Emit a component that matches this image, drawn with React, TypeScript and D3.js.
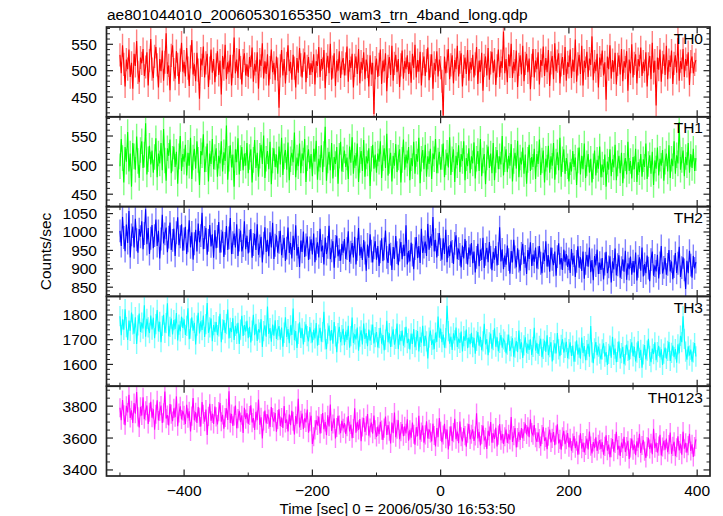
import React from "react";
import * as d3 from "d3";

const titleText = "ae801044010_20060530165350_wam3_trn_4band_long.qdp";
const xLabelText = "Time [sec] 0 = 2006/05/30 16:53:50";
const yLabelText = "Counts/sec";
const panelNames = ["TH0", "TH1", "TH2", "TH3", "TH0123"];
const panelColors = ["#ff0000", "#00ff00", "#0000ff", "#00ffff", "#ff00ff"];
const panelErrors = [22, 22, 31, 41, 60];
const panelDomains: [number, number][] = [[412.6, 582.8], [428.7, 583], [825, 1069], [1512, 1875], [3362, 3925]];
const panelMajorTicks = [[450, 500, 550], [450, 500, 550], [850, 900, 950, 1000, 1050], [1600, 1700, 1800], [3400, 3600, 3800]];
const panelMinorSteps = [10, 10, 10, 20, 50];
const xMajorTicks = [-400, -200, 0, 200, 400];
const xMinorTicks = [-500, -300, -100, 100, 300];
const timeStart = -500;
const timeStep = 2;

const th0 = [
530,495,548,512,470,521,503,540,488,515,466,532,509,556,497,478,525,514,541,490,507,535,472,519,560,
503,486,527,545,511,468,522,499,538,481,516,571,494,510,463,529,548,502,485,537,512,475,520,553,498,
517,489,543,505,471,526,558,493,512,480,534,501,447,523,510,546,487,515,532,469,505,540,496,522,478,
511,537,492,519,455,528,503,549,484,516,497,530,472,508,563,495,521,486,541,506,474,519,533,491,512,
488,526,507,544,479,513,498,535,466,521,509,552,485,518,494,531,472,506,540,497,515,482,527,503,430,
509,539,491,522,476,514,548,499,517,483,530,505,468,524,496,543,511,487,520,535,478,508,526,492,514,
497,531,474,518,509,545,488,522,503,539,467,512,528,495,551,483,507,533,471,519,500,537,486,515,524,
491,513,546,479,520,505,532,468,510,527,494,541,476,517,502,535,484,521,508,470,529,493,515,418,506,
523,488,512,540,475,519,499,533,461,508,526,492,547,481,514,530,497,522,469,511,538,485,518,503,529,
494,516,477,532,505,549,487,520,498,536,472,513,527,490,519,544,482,509,531,466,515,500,537,489,521,
506,480,415,527,495,518,541,484,511,529,476,520,503,547,489,516,533,470,508,525,494,539,481,517,502,
530,487,513,545,475,519,498,534,462,510,527,491,543,483,515,536,496,521,473,509,540,488,518,505,574,
495,522,478,531,508,551,486,517,500,538,469,512,529,493,547,480,514,532,497,523,465,510,541,487,519,
503,535,474,520,509,546,490,524,497,539,471,515,528,484,552,499,518,533,476,511,526,492,545,481,516,
507,540,486,521,498,559,479,513,530,494,547,472,519,505,536,488,523,511,565,482,517,499,532,468,525,
510,538,491,516,445,527,503,548,485,520,497,534,474,512,529,493,541,480,518,506,537,462,521,495,550,
487,514,531,476,522,508,544,490,517,499,535,470,513,528,484,553,496,519,434,525,502,540,479,516,531,
492,547,484,520,507,538,475,514,529,496,562,481,518,503,541,488,522,509,535,473,517,527,495,512,520,
];

const th1 = [
498,545,512,470,531,506,557,489,520,463,538,515,492,549,507,478,526,541,495,518,572,484,510,533,501,
525,487,514,546,479,520,503,538,491,562,508,473,529,516,544,486,511,532,497,523,468,515,550,490,519,
506,535,482,521,499,547,476,513,528,494,541,509,466,524,517,553,488,510,537,472,520,502,545,493,514,
529,480,516,503,541,489,522,507,568,475,511,534,496,518,463,527,505,546,484,512,531,491,520,499,538,
486,514,527,470,509,543,495,521,480,516,535,502,551,478,511,524,493,540,467,508,529,497,518,485,532,
501,547,483,515,526,492,539,474,510,521,505,556,479,513,498,537,486,520,508,545,471,512,527,494,519,
481,528,506,542,475,511,496,534,488,519,566,473,508,523,491,538,477,514,502,531,468,516,540,489,510,
525,497,513,476,532,504,548,485,517,499,537,471,509,524,490,543,480,515,503,529,464,511,535,494,518,
487,520,506,541,478,512,529,495,554,482,507,521,472,516,499,536,488,513,527,470,509,544,492,518,503,
531,474,512,498,540,485,519,506,547,469,511,526,493,535,480,515,502,528,476,520,510,545,486,508,523,
492,514,537,479,505,521,496,548,483,510,527,471,516,500,534,488,519,507,541,474,512,498,529,486,515,
503,539,477,511,524,490,545,481,508,519,467,513,532,495,520,486,538,474,509,526,493,515,501,550,482,
510,527,488,516,499,536,472,507,521,494,542,479,513,501,530,485,518,468,509,535,490,514,497,528,476,
519,502,544,483,508,525,470,511,496,533,487,515,499,538,475,506,522,491,547,480,510,527,485,512,498,
472,505,489,524,497,513,466,508,530,484,516,493,537,478,503,519,487,511,470,498,525,482,509,494,532,
479,501,488,518,463,506,492,527,481,510,496,535,474,503,516,486,521,469,499,512,484,540,490,507,477,
514,493,528,471,505,488,519,480,510,497,537,476,502,517,485,523,466,508,494,530,482,511,499,526,473,
506,520,489,534,478,511,498,541,485,517,503,574,492,509,525,481,514,500,538,487,519,495,528,490,512,
];

const th2 = [
1003,962,1041,985,948,1020,970,1057,931,992,1015,958,1036,979,944,1008,987,1029,953,996,1062,967,1011,940,983,
1019,956,990,1034,962,1003,928,981,1047,969,995,1012,945,986,1026,951,977,1009,935,998,1040,964,987,1021,949,
981,1014,940,976,1032,958,999,925,968,1006,947,1023,972,990,1052,953,985,1011,938,977,1019,961,994,930,1005,
956,988,1027,944,975,1001,932,969,1016,951,984,1038,940,971,996,958,1021,935,978,1004,947,963,1029,953,990,
942,975,1008,930,966,995,951,1021,938,962,987,917,970,1013,946,979,934,999,958,1025,927,964,991,944,972,
1003,937,961,984,921,956,1012,943,970,928,990,951,1018,936,959,905,977,946,1001,932,965,988,924,957,980,
939,996,918,954,972,931,1009,947,963,912,985,940,958,1017,926,949,975,903,961,990,934,952,922,968,944,
981,927,955,1002,919,945,970,931,987,912,953,1011,936,960,924,978,943,895,966,930,994,948,917,957,975,
925,962,908,946,983,921,954,1004,931,916,968,940,897,959,927,989,944,910,951,973,926,965,935,1018,912,
948,920,971,937,899,955,986,929,962,916,1009,943,959,974,935,1022,952,988,963,1041,947,979,931,966,997,
952,925,983,940,1006,918,961,934,975,947,913,969,991,926,955,939,904,963,928,981,945,912,958,936,970,
915,947,890,931,968,907,952,924,984,902,939,957,918,973,931,896,946,925,962,909,941,1013,920,953,899,
936,911,963,925,887,948,917,979,932,904,956,921,895,942,968,913,934,886,951,927,972,908,939,919,958,
901,930,962,915,888,944,921,975,906,937,892,958,926,910,947,881,933,969,912,929,897,952,918,940,905,
927,889,954,912,936,878,920,961,903,931,894,947,873,915,938,906,958,891,924,869,935,909,952,886,917,
897,929,871,913,946,888,905,934,863,920,898,955,882,911,937,876,903,926,892,949,870,915,899,933,884,
921,890,944,868,907,931,895,958,879,913,888,936,902,866,925,947,881,909,893,938,874,916,962,887,904,
929,884,912,951,893,920,872,906,943,889,915,960,878,903,931,897,845,922,888,949,910,876,935,901,918,
];

const th3 = [
1795,1718,1782,1740,1823,1751,1699,1777,1736,1810,1762,1724,1791,1683,1758,1806,1731,1769,1745,1839,1712,1784,1750,1727,1798,
1741,1789,1706,1763,1820,1733,1772,1690,1756,1801,1728,1767,1847,1714,1752,1785,1721,1779,1743,1808,1697,1761,1734,1793,1748,
1782,1719,1756,1827,1702,1745,1790,1736,1768,1681,1757,1809,1725,1774,1739,1798,1711,1763,1848,1728,1750,1786,1694,1759,1732,
1771,1718,1754,1805,1690,1742,1779,1727,1763,1822,1705,1748,1731,1787,1699,1756,1724,1768,1683,1741,1797,1715,1759,1733,1776,
1706,1752,1689,1737,1801,1718,1764,1695,1742,1729,1783,1671,1735,1758,1712,1834,1723,1747,1692,1761,1716,1778,1703,1739,1755,
1700,1749,1672,1728,1791,1711,1743,1686,1758,1719,1826,1698,1735,1667,1724,1770,1707,1746,1681,1732,1762,1714,1693,1751,1727,
1689,1740,1705,1767,1676,1720,1748,1692,1731,1813,1701,1662,1725,1757,1696,1739,1684,1771,1713,1649,1726,1752,1690,1718,1744,
1678,1733,1699,1756,1668,1714,1790,1687,1722,1701,1749,1655,1712,1738,1681,1765,1703,1727,1674,1741,1696,1720,1761,1685,1710,
1731,1669,1706,1748,1684,1719,1657,1700,1776,1690,1726,1671,1712,1742,1680,1703,1765,1662,1721,1694,1737,1676,1709,1752,1686,
1704,1661,1725,1683,1743,1670,1698,1735,1652,1711,1688,1756,1674,1716,1693,1624,1708,1737,1679,1700,1662,1729,1691,1794,1708,
1745,1690,1721,1668,1706,1837,1735,1684,1712,1659,1726,1697,1749,1671,1704,1687,1733,1652,1714,1695,1741,1666,1709,1682,1728,
1670,1708,1643,1695,1731,1676,1712,1658,1693,1764,1681,1702,1637,1689,1725,1664,1698,1746,1672,1710,1653,1687,1719,1668,1701,
1692,1645,1680,1721,1654,1673,1706,1631,1668,1694,1650,1737,1662,1689,1626,1677,1710,1647,1683,1659,1702,1638,1671,1748,1656,
1687,1642,1675,1704,1629,1663,1696,1651,1718,1637,1670,1690,1612,1658,1685,1644,1727,1661,1633,1679,1702,1648,1667,1691,1625,
1662,1689,1634,1676,1611,1652,1697,1640,1668,1623,1709,1646,1674,1617,1658,1683,1631,1755,1649,1605,1665,1690,1637,1672,1644,
1620,1661,1685,1632,1650,1598,1643,1676,1627,1712,1639,1664,1609,1651,1693,1624,1646,1671,1601,1637,1680,1655,1618,1662,1689,
1633,1671,1612,1648,1694,1626,1659,1587,1641,1678,1620,1656,1704,1635,1609,1664,1642,1689,1617,1650,1675,1628,1661,1598,1644,
1668,1623,1655,1691,1614,1647,1676,1629,1662,1607,1681,1645,1716,1690,1795,1703,1652,1619,1673,1636,1660,1611,1649,1686,1632,
];

const th0123 = [
3790,3712,3838,3745,3681,3802,3760,3871,3726,3774,3695,3819,3752,3889,3733,3667,3796,3741,3855,3718,3770,3804,3689,3762,3827,
3728,3781,3652,3749,3836,3710,3767,3803,3695,3758,3892,3722,3744,3679,3813,3750,3706,3786,3731,3861,3674,3757,3799,3716,3770,
3742,3688,3809,3725,3768,3641,3737,3851,3711,3762,3694,3795,3730,3672,3826,3749,3703,3778,3620,3736,3815,3708,3754,3689,3797,
3733,3685,3766,3820,3702,3745,3658,3729,3787,3714,3893,3695,3751,3676,3738,3804,3661,3722,3771,3700,3743,3632,3790,3719,3756,
3688,3741,3805,3697,3725,3650,3764,3712,3841,3683,3730,3598,3707,3772,3691,3748,3719,3669,3794,3728,3703,3757,3640,3716,3781,
3675,3729,3663,3801,3694,3716,3642,3748,3681,3770,3705,3622,3738,3689,3846,3667,3711,3753,3656,3724,3698,3779,3633,3702,3740,
3563,3608,3651,3712,3679,3734,3628,3690,3757,3655,3701,3618,3743,3672,3810,3645,3688,3723,3597,3666,3739,3682,3630,3708,3661,
3694,3625,3671,3738,3642,3685,3599,3660,3787,3634,3702,3651,3719,3580,3669,3726,3638,3677,3750,3615,3663,3697,3628,3741,3652,
3607,3672,3624,3701,3650,3588,3662,3735,3619,3681,3643,3566,3697,3631,3760,3605,3655,3712,3593,3640,3688,3611,3674,3629,3718,
3583,3651,3602,3697,3624,3558,3668,3611,3740,3590,3637,3679,3571,3620,3705,3598,3654,3632,3579,3690,3616,3547,3663,3605,3726,
3642,3574,3619,3689,3596,3653,3528,3612,3674,3581,3634,3720,3593,3641,3567,3703,3608,3579,3662,3615,3546,3631,3688,3592,3624,
3655,3582,3613,3756,3597,3639,3554,3621,3678,3589,3604,3532,3646,3612,3701,3571,3630,3594,3665,3547,3618,3687,3586,3627,3563,
3608,3653,3569,3624,3590,3732,3576,3615,3662,3541,3603,3637,3588,3662,3598,3641,3690,3622,3671,3605,3718,3634,3618,3681,3602,
3577,3635,3596,3549,3622,3668,3581,3604,3530,3611,3653,3573,3598,3637,3555,3619,3686,3566,3592,3527,3608,3645,3562,3589,3631,
3543,3599,3521,3568,3612,3537,3580,3495,3557,3629,3534,3572,3510,3553,3596,3528,3641,3549,3503,3575,3536,3604,3519,3561,3587,
3532,3574,3496,3548,3617,3521,3559,3480,3540,3593,3515,3566,3639,3527,3552,3488,3571,3535,3608,3512,3547,3583,3469,3538,3596,
3524,3561,3493,3579,3540,3626,3507,3553,3588,3518,3475,3546,3602,3531,3567,3499,3658,3536,3572,3509,3549,3620,3490,3544,3582,
3527,3596,3512,3559,3634,3501,3548,3577,3486,3539,3611,3522,3565,3495,3640,3533,3570,3508,3552,3627,3519,3561,3481,3546,3592,
];

const panelValues = [th0, th1, th2, th3, th0123];

const W = 723;
const H = 516;
const LEFT = 106.5;
const RIGHT = 710;
const TOP = 27;
const BOTTOM = 476;
const FONT = "'Liberation Sans', Arial, Helvetica, sans-serif";
const FS = 15.5;
const FRAME = "#222";

export default function App() {
  const nP = panelNames.length;
  const ph = (BOTTOM - TOP) / nP;
  const x = d3.scaleLinear().domain([-521, 420]).range([LEFT, RIGHT]);

  return (
    <svg
      width={W}
      height={H}
      viewBox={`0 0 ${W} ${H}`}
      style={{ position: "absolute", left: 0, top: 0, background: "#fff" }}
      fontFamily={FONT}
    >
      <defs>
        {panelNames.map((n, i) => (
          <clipPath id={`clip${i}`} key={n}>
            <rect x={LEFT} y={TOP + i * ph} width={RIGHT - LEFT} height={ph} />
          </clipPath>
        ))}
      </defs>
      <text x={107} y={20} fontSize={FS} fill="#000">{titleText}</text>
      {panelNames.map((name, i) => {
        const y0 = TOP + i * ph;
        const y1 = y0 + ph;
        const dom = panelDomains[i];
        const y = d3.scaleLinear().domain(dom).range([y1, y0]);
        const vals = panelValues[i];
        const err = panelErrors[i];
        const color = panelColors[i];
        const pts = vals.map((v, k) => [timeStart + k * timeStep, v] as [number, number]);
        const line = d3.line<[number, number]>().x((d) => x(d[0])).y((d) => y(d[1]))(pts) || "";
        const bars = pts
          .map((d) => `M${x(d[0]).toFixed(2)},${y(d[1] - err).toFixed(2)}V${y(d[1] + err).toFixed(2)}`)
          .join("");
        const minorY = d3
          .range(Math.ceil(dom[0] / panelMinorSteps[i]) * panelMinorSteps[i], dom[1], panelMinorSteps[i])
          .filter((v) => !panelMajorTicks[i].includes(v));
        return (
          <g key={name}>
            <g clipPath={`url(#clip${i})`}>
              <path d={bars} stroke={color} strokeOpacity={0.5} strokeWidth={1.4} fill="none" />
              <path d={line} stroke={color} strokeWidth={1.1} fill="none" />
            </g>
            <rect x={LEFT} y={y0} width={RIGHT - LEFT} height={ph} fill="none" stroke={FRAME} strokeWidth={1.7} />
            {panelMajorTicks[i].map((t) => (
              <g key={`M${t}`}>
                <line x1={LEFT} x2={LEFT + 6.5} y1={y(t)} y2={y(t)} stroke={FRAME} strokeWidth={1.2} />
                <line x1={RIGHT} x2={RIGHT - 6.5} y1={y(t)} y2={y(t)} stroke={FRAME} strokeWidth={1.2} />
                <text x={97} y={y(t) + 5.5} fontSize={FS} textAnchor="end" fill="#000">{t}</text>
              </g>
            ))}
            {minorY.map((t) => (
              <g key={`m${t}`}>
                <line x1={LEFT} x2={LEFT + 3.5} y1={y(t)} y2={y(t)} stroke={FRAME} strokeWidth={1} />
                <line x1={RIGHT} x2={RIGHT - 3.5} y1={y(t)} y2={y(t)} stroke={FRAME} strokeWidth={1} />
              </g>
            ))}
            {xMajorTicks.map((t) => (
              <g key={`xM${t}`}>
                <line x1={x(t)} x2={x(t)} y1={y0} y2={y0 + 6.5} stroke={FRAME} strokeWidth={1.2} />
                <line x1={x(t)} x2={x(t)} y1={y1} y2={y1 - 6.5} stroke={FRAME} strokeWidth={1.2} />
              </g>
            ))}
            {xMinorTicks.map((t) => (
              <g key={`xm${t}`}>
                <line x1={x(t)} x2={x(t)} y1={y0} y2={y0 + 3.5} stroke={FRAME} strokeWidth={1} />
                <line x1={x(t)} x2={x(t)} y1={y1} y2={y1 - 3.5} stroke={FRAME} strokeWidth={1} />
              </g>
            ))}
            <text x={703} y={y0 + 16.5} fontSize={FS} textAnchor="end" fill="#000">{name}</text>
          </g>
        );
      })}
      {xMajorTicks.map((t) => (
        <text key={`xl${t}`} x={x(t)} y={495.5} fontSize={FS} textAnchor="middle" fill="#000">
          {t < 0 ? `\u2212${Math.abs(t)}` : `${t}`}
        </text>
      ))}
      <text x={397.5} y={513.5} fontSize={15} textAnchor="middle" fill="#000">{xLabelText}</text>
      <text
        transform={`translate(51,${(TOP + BOTTOM) / 2}) rotate(-90)`}
        fontSize={FS}
        textAnchor="middle"
        fill="#000"
      >
        {yLabelText}
      </text>
    </svg>
  );
}
